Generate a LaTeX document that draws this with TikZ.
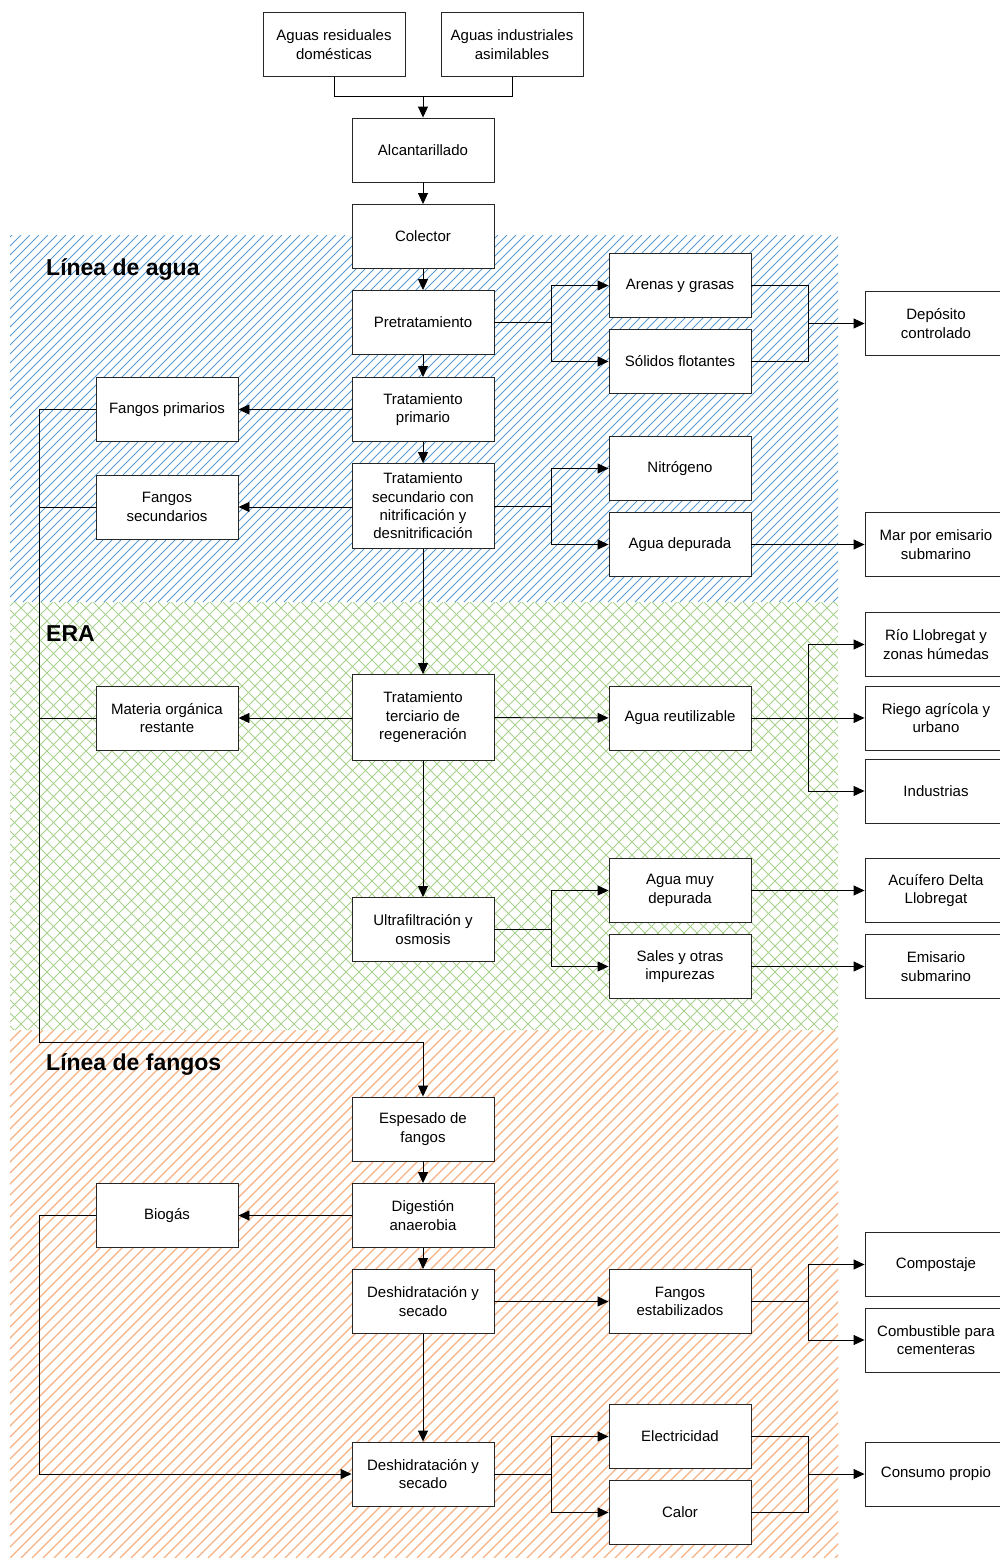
\documentclass[tikz,border=0pt]{standalone}
\usepackage{fontspec}
\setmainfont{Liberation Sans}
\usetikzlibrary{arrows.meta}
\definecolor{hatchblue}{RGB}{91,155,213}
\definecolor{hatchgreen}{RGB}{169,209,142}
\definecolor{hatchorange}{RGB}{244,177,131}
\begin{document}
\begin{tikzpicture}[x=1pt,y=-1pt,
  box/.style={draw=black!85, line width=0.9pt, fill=white, minimum width=142pt,
    minimum height=64pt, align=center, inner sep=2pt,
    font=\fontsize{15}{18.4}\selectfont},
  tallbox/.style={box, minimum height=86pt},
  heading/.style={anchor=base west, inner sep=0pt, font=\fontsize{23}{27}\selectfont\bfseries},
  link/.style={draw=black, line width=0.9pt},
  arr/.style={link, -{Triangle[length=11pt,width=10pt]}},
  hatch/.style={line width=0.95pt}]
\useasboundingbox (0,0) rectangle (999,1558);

% --- shaded zones ---
\begin{scope}
  \clip (10,235) rectangle (838,602);
  \foreach \a in {-400,-391,...,840}
    \draw[hatch, hatchblue] (\a,602) -- ++(367,-367);
\end{scope}
\begin{scope}
  \clip (10,602) rectangle (838,1030);
  \foreach \a in {-440,-427,...,850} {
    \draw[hatch, hatchgreen] (\a,1030) -- ++(428,-428);
    \draw[hatch, hatchgreen] (\a,602) -- ++(428,428);
  }
\end{scope}
\begin{scope}
  \clip (10,1030) rectangle (838,1558);
  \foreach \a in {-540,-529,...,850}
    \draw[hatch, hatchorange, line width=1.35pt] (\a,1558) -- ++(528,-528);
\end{scope}

\node[heading] (hagua) at (46,275) {Línea de agua};
\node[heading] (hera) at (46,641.5) {ERA};
\node[heading] (hfang) at (46,1070.5) {Línea de fangos};

% --- main column ---
\node[box] (res) at (334,44.5) {Aguas residuales\\domésticas};
\node[box] (ind) at (512,44.5) {Aguas industriales\\asimilables};
\node[box] (alc) at (423,150) {Alcantarillado};
\node[box] (col) at (423,236.5) {Colector};
\node[box] (pre) at (423,322.5) {Pretratamiento};
\node[box] (pri) at (423,409.5) {Tratamiento\\primario};
\node[tallbox, minimum height=85pt] (sec) at (423,506) {Tratamiento\\secundario con\\nitrificación y\\desnitrificación};
\node[tallbox] (ter) at (423,717.5) {Tratamiento\\terciario de\\regeneración};
\node[box] (ult) at (423,929.5) {Ultrafiltración y\\osmosis};
\node[box] (esp) at (423,1129) {Espesado de\\fangos};
\node[box] (dig) at (423,1215.5) {Digestión\\anaerobia};
\node[box] (dsh) at (423,1301.5) {Deshidratación y\\secado};
\node[box] (dsh2) at (423,1474) {Deshidratación y\\secado};

% --- left column ---
\node[box] (fpr) at (167,409.5) {Fangos primarios};
\node[box] (fse) at (167,507) {Fangos\\secundarios};
\node[box] (mor) at (167,718) {Materia orgánica\\restante};
\node[box] (bio) at (167,1215.5) {Biogás};

% --- products ---
\node[box] (are) at (680,285.5) {Arenas y grasas};
\node[box] (sol) at (680,361.5) {Sólidos flotantes};
\node[box] (nit) at (680,468.5) {Nitrógeno};
\node[box] (adp) at (680,544.5) {Agua depurada};
\node[box] (are2) at (680,718) {Agua reutilizable};
\node[box] (amd) at (680,890.5) {Agua muy\\depurada};
\node[box] (sal) at (680,966.5) {Sales y otras\\impurezas};
\node[box] (fes) at (680,1301.5) {Fangos\\estabilizados};
\node[box] (ele) at (680,1436.5) {Electricidad};
\node[box] (cal) at (680,1512.5) {Calor};

% --- destinations ---
\node[box] (dep) at (936,323.5) {Depósito\\controlado};
\node[box] (mar) at (936,544.5) {Mar por emisario\\submarino};
\node[box] (rio) at (936,644.5) {Río Llobregat y\\zonas húmedas};
\node[box] (rie) at (936,718) {Riego agrícola y\\urbano};
\node[box] (inu) at (936,791) {Industrias};
\node[box] (acu) at (936,890.5) {Acuífero Delta\\Llobregat};
\node[box] (emi) at (936,966.5) {Emisario\\submarino};
\node[box] (com) at (936,1264.5) {Compostaje};
\node[box] (cem) at (936,1340) {Combustible para\\cementeras};
\node[box] (con) at (936,1474) {Consumo propio};

% --- junction points ---
\coordinate (jtop) at (423,96);
\coordinate (sA) at (551,322.5);
\coordinate (mA) at (808,323.5);
\coordinate (sB) at (551,506);
\coordinate (mC) at (808,718);
\coordinate (sD) at (551,929.5);
\coordinate (mE) at (808,1301.5);
\coordinate (sF) at (551,1474);
\coordinate (mF) at (808,1474);
\coordinate (bus) at (39,409.5);
\coordinate (busend) at (39,1042);

% --- inflow ---
\draw[link] (res.south) |- (jtop);
\draw[link] (ind.south) |- (jtop);
\draw[arr] (jtop) -- (alc.north);
\draw[arr] (alc) -- (col);
\draw[arr] (col) -- (pre);
\draw[arr] (pre) -- (pri);
\draw[arr] (pri) -- (sec);
\draw[arr] (sec) -- (ter);
\draw[arr] (ter) -- (ult);

% --- water line outputs ---
\draw[link] (pre.east) -- (sA);
\draw[arr] (sA) |- (are.west);
\draw[arr] (sA) |- (sol.west);
\draw[link] (are.east) -| (mA);
\draw[link] (sol.east) -| (mA);
\draw[arr] (mA) -- (dep.west);

\draw[link] (sec.east) -- (sB);
\draw[arr] (sB) |- (nit.west);
\draw[arr] (sB) |- (adp.west);
\draw[arr] (adp) -- (mar);

\draw[arr] (ter) -- (are2);
\draw[link] (are2.east) -- (mC);
\draw[arr] (mC) |- (rio.west);
\draw[arr] (mC) -- (rie.west);
\draw[arr] (mC) |- (inu.west);

\draw[link] (ult.east) -- (sD);
\draw[arr] (sD) |- (amd.west);
\draw[arr] (sD) |- (sal.west);
\draw[arr] (amd) -- (acu);
\draw[arr] (sal) -- (emi);

% --- sludge collection ---
\draw[arr] (pri) -- (fpr);
\draw[arr] (sec.west |- fse) -- (fse);
\draw[arr] (ter.west |- mor) -- (mor);
\draw[link] (fpr.west) -- (bus) -- (busend);
\draw[link] (fse.west) -- (fse.west -| bus);
\draw[link] (mor.west) -- (mor.west -| bus);
\draw[arr] (busend) -| (esp.north);

% --- sludge line ---
\draw[arr] (esp) -- (dig);
\draw[arr] (dig) -- (dsh);
\draw[arr] (dsh) -- (dsh2);
\draw[arr] (dig) -- (bio);
\draw[arr] (bio.west) -- (bio.west -| bus) |- (dsh2.west);

\draw[arr] (dsh) -- (fes);
\draw[link] (fes.east) -- (mE);
\draw[arr] (mE) |- (com.west);
\draw[arr] (mE) |- (cem.west);

\draw[link] (dsh2.east) -- (sF);
\draw[arr] (sF) |- (ele.west);
\draw[arr] (sF) |- (cal.west);
\draw[link] (ele.east) -| (mF);
\draw[link] (cal.east) -| (mF);
\draw[arr] (mF) -- (con.west);
\end{tikzpicture}
\end{document}
